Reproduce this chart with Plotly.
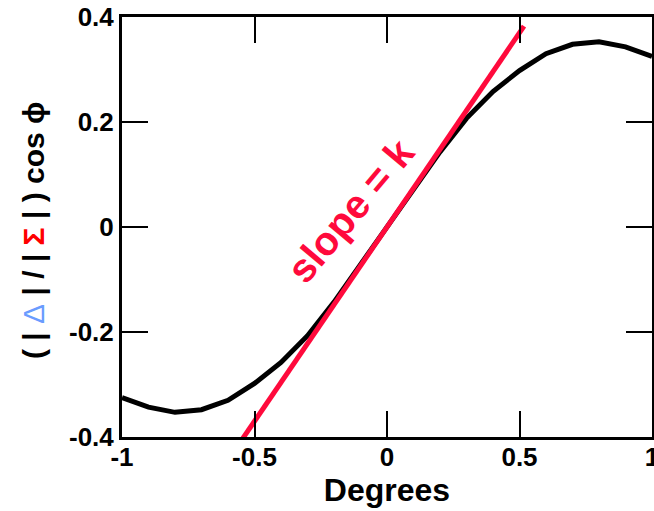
import plotly.graph_objects as go

# Black curve: (|Δ|/|Σ|) cos φ versus angle in degrees
deg = [-1.0, -0.9, -0.8, -0.7, -0.6, -0.5, -0.4, -0.3, -0.2, -0.1, 0.0,
       0.1, 0.2, 0.3, 0.4, 0.5, 0.6, 0.7, 0.8, 0.9, 1.0]
ratio = [-0.325, -0.343, -0.353, -0.348, -0.330, -0.298, -0.258, -0.207, -0.143, -0.072, 0.0,
         0.072, 0.143, 0.207, 0.258, 0.298, 0.330, 0.348, 0.353, 0.343, 0.325]

# Red tangent line (slope = k)
tan_x = [-0.556, 0.517]
slope_k = 0.74
tan_y = [slope_k * v for v in tan_x]

x_ticks = [-1, -0.5, 0, 0.5, 1]
x_tick_labels = ["-1", "-0.5", "0", "0.5", "1"]
y_ticks = [-0.4, -0.2, 0, 0.2, 0.4]
y_tick_labels = ["-0.4", "-0.2", "0", "0.2", "0.4"]

FONT = "Liberation Sans, Arial, Helvetica, sans-serif"
RED = "#ff0a3c"

fig = go.Figure()
fig.add_trace(go.Scatter(x=deg, y=ratio, mode="lines",
                         line=dict(color="black", width=5), hoverinfo="skip"))
fig.add_trace(go.Scatter(x=tan_x, y=tan_y, mode="lines", cliponaxis=False,
                         line=dict(color=RED, width=5), hoverinfo="skip"))

fig.add_annotation(x=-0.136, y=0.032, xref="x", yref="y", text="<b>slope = k</b>",
                   showarrow=False, textangle=-50,
                   font=dict(family=FONT, size=40, color=RED))

# y-axis title as rotated text
fig.add_annotation(x=-0.166, y=0.493, xref="paper", yref="paper",
                   xanchor="center", yanchor="middle", showarrow=False, textangle=-90,
                   text="<b>( | </b><span style='color:#6a9cff'>Δ</span><b> | / | "
                        "<span style='color:#ff0000'>Σ</span> | ) cos ϕ</b>",
                   font=dict(family=FONT, size=30, color="black"))

axis_common = dict(showline=True, linecolor="black", linewidth=3, mirror="ticks",
                   ticks="inside", ticklen=26, tickwidth=2, tickcolor="black",
                   showgrid=False, zeroline=False, automargin=False,
                   ticklabeloverflow="allow",
                   tickfont=dict(family=FONT, size=26, color="black"))

fig.update_layout(
    width=654, height=511,
    margin=dict(l=122, r=2, t=17, b=74),
    paper_bgcolor="white", plot_bgcolor="white",
    showlegend=False,
    xaxis=dict(range=[-1, 1], tickvals=x_ticks, ticktext=["<b>%s</b>" % t for t in x_tick_labels],
               ticklabelstandoff=-5,
               title=dict(text="<b>Degrees</b>", font=dict(family=FONT, size=32, color="black"),
                          standoff=4),
               **axis_common),
    yaxis=dict(range=[-0.4, 0.4], tickvals=y_ticks, ticktext=["<b>%s</b>" % t for t in y_tick_labels],
               **axis_common),
)

fig.write_html("out.html", config={"displayModeBar": False},
               post_script="document.body.style.margin='0';document.body.style.overflow='hidden';")
